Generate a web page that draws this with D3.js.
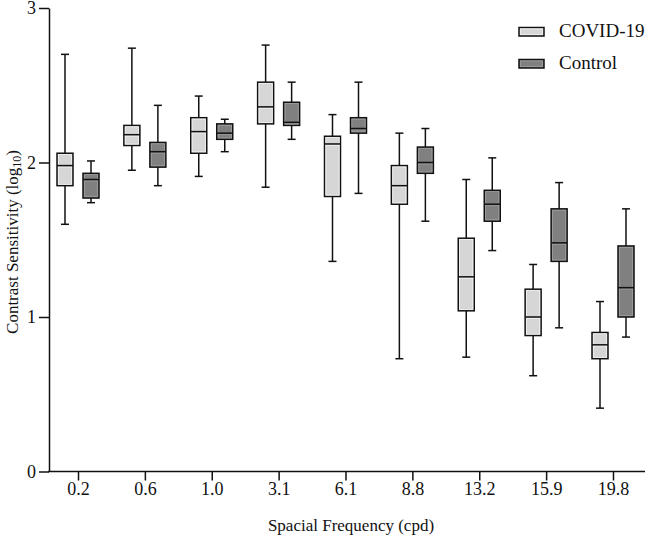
<!DOCTYPE html>
<html>
<head>
<meta charset="utf-8">
<script src="https://cdn.jsdelivr.net/npm/d3@7"></script>
<style>
	body { margin: 0; background: #fff; }
	svg text { font-family: "Liberation Serif", "Times New Roman", serif; fill: #111; }
</style>
</head>
<body>
<svg id="chart"></svg>
<script>
// spatial frequencies (cpd)
const frequencies = ["0.2", "0.6", "1.0", "3.1", "6.1", "8.8", "13.2", "15.9", "19.8"];
const yTicks = [0, 1, 2, 3];

// [whisker min, q1, median, q3, whisker max] per frequency
const covidStats = [
	[1.60, 1.85, 1.98, 2.06, 2.70],
	[1.95, 2.11, 2.18, 2.24, 2.74],
	[1.91, 2.06, 2.20, 2.29, 2.43],
	[1.84, 2.25, 2.36, 2.52, 2.76],
	[1.36, 1.78, 2.12, 2.17, 2.31],
	[0.73, 1.73, 1.85, 1.98, 2.19],
	[0.74, 1.04, 1.26, 1.51, 1.89],
	[0.62, 0.88, 1.00, 1.18, 1.34],
	[0.41, 0.73, 0.82, 0.90, 1.10]
];
const controlStats = [
	[1.74, 1.77, 1.89, 1.93, 2.01],
	[1.85, 1.97, 2.07, 2.13, 2.37],
	[2.07, 2.15, 2.19, 2.25, 2.28],
	[2.15, 2.24, 2.26, 2.39, 2.52],
	[1.80, 2.19, 2.22, 2.29, 2.52],
	[1.62, 1.93, 2.00, 2.10, 2.22],
	[1.43, 1.62, 1.73, 1.82, 2.03],
	[0.93, 1.36, 1.48, 1.70, 1.87],
	[0.87, 1.00, 1.19, 1.46, 1.70]
];
const seriesNames = ["COVID-19", "Control"];
const seriesFill = ["#d6d6d6", "#808080"];
const seriesShine = ["#f6f6f6", "#a4a4a4"];

const width = 650, height = 539;
const svg = d3.select("#chart")
		.attr("width", width)
		.attr("height", height);

const axisLeftX = 49, axisRightX = 645;
const y = d3.scaleLinear().domain([0, 3]).range([471.5, 8]);
const x = d3.scalePoint().domain(frequencies).range([78, 613]);
const boxWidth = 16;
const boxOffset = 13;

// y axis
svg.append("g")
	.attr("transform", "translate(" + axisLeftX + ",0)")
	.call(d3.axisLeft(y).tickValues(yTicks).tickFormat(d3.format("d")).tickSize(10).tickSizeOuter(0).tickPadding(3))
	.call(g => g.attr("font-family", null).attr("font-size", null))
	.call(g => g.selectAll("path, line").attr("stroke", "#111").attr("stroke-width", 1.5))
	.call(g => g.selectAll("text").style("font-size", "18px"));

// x axis
const xAxis = svg.append("g")
	.attr("transform", "translate(0," + y(0) + ")")
	.call(d3.axisBottom(x).tickSize(9).tickSizeOuter(0).tickPadding(2))
	.call(g => g.attr("font-family", null).attr("font-size", null))
	.call(g => g.select(".domain").remove())
	.call(g => g.selectAll("line").attr("stroke", "#111").attr("stroke-width", 1.5))
	.call(g => g.selectAll("text").style("font-size", "18px"));
xAxis.append("line")
	.attr("x1", axisLeftX - 0.75).attr("x2", axisRightX)
	.attr("stroke", "#111").attr("stroke-width", 1.5);

function drawBox(stats, fill, shine, offset) {
	const groups = svg.append("g").selectAll("g")
		.data(stats)
		.enter()
		.append("g")
		.attr("transform", function(d, i) { return "translate(" + (x(frequencies[i]) + offset) + ",0)" });

	// whiskers
	groups.append("line")
		.attr("x1", 0).attr("x2", 0)
		.attr("y1", function(d) { return y(d[0]) })
		.attr("y2", function(d) { return y(d[4]) })
		.attr("stroke", "#111").attr("stroke-width", 1.5);
	groups.selectAll(".cap")
		.data(function(d) { return [d[0], d[4]] })
		.enter()
		.append("line")
		.attr("x1", -4).attr("x2", 4)
		.attr("y1", function(d) { return y(d) })
		.attr("y2", function(d) { return y(d) })
		.attr("stroke", "#111").attr("stroke-width", 1.5);

	// box
	groups.append("rect")
		.attr("x", -boxWidth / 2)
		.attr("y", function(d) { return y(d[3]) })
		.attr("width", boxWidth)
		.attr("height", function(d) { return y(d[1]) - y(d[3]) })
		.attr("fill", fill)
		.attr("stroke", "#111").attr("stroke-width", 1.5);
	// inner highlight
	groups.append("rect")
		.attr("x", -boxWidth / 2 + 1.4)
		.attr("y", function(d) { return y(d[3]) + 1.4 })
		.attr("width", boxWidth - 2.8)
		.attr("height", function(d) { return Math.max(0, y(d[1]) - y(d[3]) - 2.8) })
		.attr("fill", "none")
		.attr("stroke", shine).attr("stroke-width", 0.7);

	// median
	groups.append("line")
		.attr("x1", -boxWidth / 2 + 1).attr("x2", boxWidth / 2 - 1)
		.attr("y1", function(d) { return y(d[2]) + 1.5 })
		.attr("y2", function(d) { return y(d[2]) + 1.5 })
		.attr("stroke", shine).attr("stroke-width", 0.7);
	groups.append("line")
		.attr("x1", -boxWidth / 2).attr("x2", boxWidth / 2)
		.attr("y1", function(d) { return y(d[2]) })
		.attr("y2", function(d) { return y(d[2]) })
		.attr("stroke", "#111").attr("stroke-width", 1.5);
}

drawBox(covidStats, seriesFill[0], seriesShine[0], -boxOffset);
drawBox(controlStats, seriesFill[1], seriesShine[1], boxOffset);

// legend
const legend = svg.append("g").selectAll("g")
	.data(seriesNames)
	.enter()
	.append("g")
	.attr("transform", function(d, i) { return "translate(519," + (27.5 + i * 32) + ")" });
legend.append("rect")
	.attr("width", 25).attr("height", 8.5)
	.attr("fill", function(d, i) { return seriesFill[i] })
	.attr("stroke", "#111").attr("stroke-width", 1.5);
legend.append("rect")
	.attr("x", 1.4).attr("y", 1.4)
	.attr("width", 22.2).attr("height", 5.7)
	.attr("fill", "none")
	.attr("stroke", function(d, i) { return seriesShine[i] }).attr("stroke-width", 0.7);
legend.append("text")
	.attr("x", 40).attr("y", 9.5)
	.style("font-size", "19px")
	.text(function(d) { return d });

// axis titles
svg.append("text")
	.attr("x", 351).attr("y", 531)
	.attr("text-anchor", "middle")
	.style("font-size", "17px")
	.text("Spacial Frequency (cpd)");

const yTitle = svg.append("text")
	.attr("transform", "translate(18,242) rotate(-90)")
	.attr("text-anchor", "middle")
	.style("font-size", "17px");
yTitle.append("tspan").text("Contrast Sensitivity (log");
yTitle.append("tspan").attr("baseline-shift", "-25%").style("font-size", "12px").text("10");
yTitle.append("tspan").text(")");
</script>
</body>
</html>
